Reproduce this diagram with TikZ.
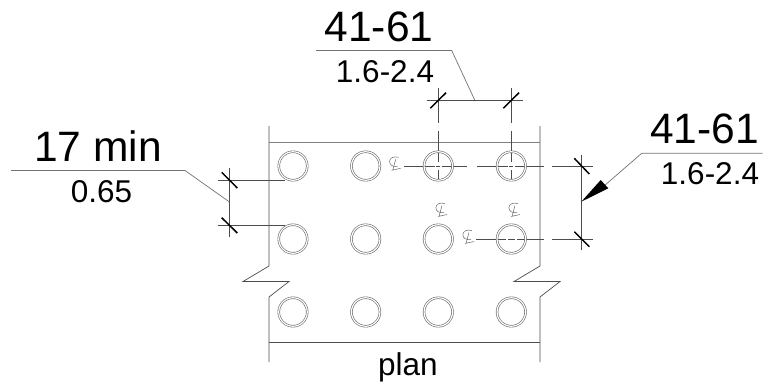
\documentclass[tikz,border=0pt]{standalone}
\usepackage{fontspec}
\setmainfont{Liberation Sans}
\usepackage{tikz}
\usetikzlibrary{positioning}
\tikzstyle{wall} = [draw=black!70, line width=0.7pt]
\tikzstyle{thin} = [draw=black!70, line width=0.6pt]
\tikzstyle{leader} = [draw=black!55, line width=0.7pt]
\tikzstyle{tick} = [draw=black, line width=1.5pt]
\tikzstyle{bolt} = [circle, minimum size=28.5pt, inner sep=0pt, draw=black!60, line width=0.6pt, double=white, double distance=1.2pt]
\tikzstyle{big} = [font=\fontsize{42.5}{43}\selectfont, inner sep=0pt]
\tikzstyle{small} = [font=\fontsize{31.5}{32}\selectfont, inner sep=0pt]
\tikzset{clmark/.pic={
  \draw[draw=black!60, line width=0.5pt] (5,-6) .. controls (-7,-9) and (-7,5) .. (4,3);
  \draw[draw=black!60, line width=0.5pt] (2,-4) -- (-1,7) (-2,7) -- (7,5);
}}

\begin{document}
\begin{tikzpicture}[x=1pt, y=-1pt]
  \useasboundingbox (0,0) rectangle (763,383);
  % plate outline
  \draw[wall] (269,126) -- (269,266) -- (243,281.5) -- (289,281.5) -- (269,297) -- (269,362);
  \draw[wall] (540,126) -- (540,266) -- (514,281.5) -- (560,281.5) -- (540,297) -- (540,362);
  \draw[wall, draw=black!50, line width=1pt] (269,142) -- (540,142);
  \draw[wall] (269,342) -- (540,342);
  % center lines
  \draw[thin] (438.3,88) -- (438.3,122.5);
  \draw[thin] (438.3,131) -- (438.3,162) (438.3,170) -- (438.3,180);
  \draw[thin] (511.3,88) -- (511.3,122.5);
  \draw[thin] (511.3,131) -- (511.3,162) (511.3,170) -- (511.3,180);
  \draw[thin] (404,166) -- (434.5,166) (442,166) -- (467,166) (477,166) -- (507.5,166) (515,166) -- (544,166) (552,166) -- (593,166);
  \draw[thin] (476,239) -- (506,239) (508,239) -- (515,239) (517,239) -- (544,239) (552,239) -- (593,239);
  % bolts
  \foreach \row/\y in {a/166, b/239, c/312}
    \foreach \col/\x in {1/293, 2/365.7, 3/438.3, 4/511.3}
      \node[bolt](\row\col) at (\x,\y){};
  \draw[thin] (436.3,166) -- (440.3,166);
  \draw[thin] (509.3,166) -- (513.3,166);
  % center line marks
  \pic at (393.7,163.3) {clmark};
  \pic at (440,209.5) {clmark};
  \pic at (513,209.5) {clmark};
  \pic at (467,236.5) {clmark};
  % left dimension
  \draw[thin] (218,180) -- (285,180);
  \draw[thin] (218,225.3) -- (285,225.3);
  \draw[thin] (229.5,168) -- (229.5,237);
  \draw[tick] (221.7,172.3) -- (237.3,188);
  \draw[tick] (221.7,217.7) -- (237.3,233);
  \node[big](lefttop) at (98,146){17 min};
  \node[small](leftbot) at (101.5,192){0.65};
  \draw[leader] (11,170.5) -- (185,170.5) -- (229.5,202);
  % top dimension
  \draw[thin] (426.7,100) -- (522.7,100);
  \draw[tick] (430.3,108.3) -- (446,92.7);
  \draw[tick] (503.3,108.3) -- (519,92.7);
  \node[big](toptop) at (379,27){41-61};
  \node[small](topbot) at (385,72){1.6-2.4};
  \draw[leader] (316,50.5) -- (451.7,50.5) -- (474.7,100);
  % right dimension
  \draw[thin] (581.3,155) -- (581.3,250);
  \draw[tick] (574.3,158.3) -- (589.3,174);
  \draw[tick] (574.3,231.7) -- (589.3,246.7);
  \node[big](righttop) at (704.5,129){41-61};
  \node[small](rightbot) at (710,173.7){1.6-2.4};
  \draw[leader] (762.7,153.3) -- (641.7,153.3) -- (604,186);
  \fill[black] (581.3,201.7) -- (600.7,180) -- (608.3,188.3) -- cycle;
  % title
  \node[small, anchor=base](plan) at (408,375.5){plan};
\end{tikzpicture}
\end{document}
